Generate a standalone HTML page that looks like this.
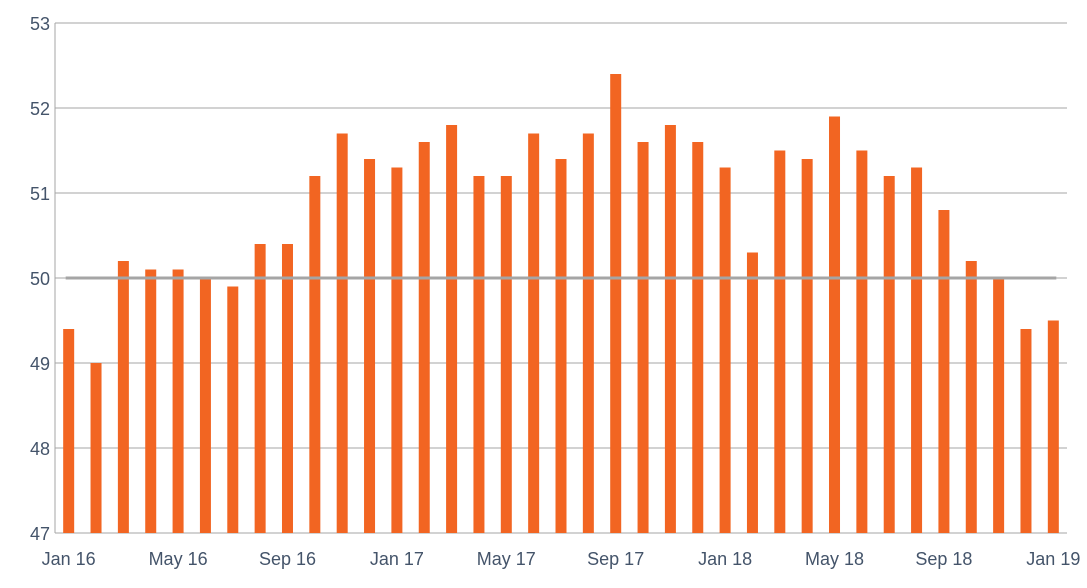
<!DOCTYPE html>
<html><head><meta charset="utf-8"><style>
body{margin:0;background:#fff;}
svg text{font-family:"Liberation Sans",sans-serif;font-size:18px;fill:#44546a;}
</style></head><body>
<svg id="chart" width="1087" height="583" viewBox="0 0 1087 583"></svg>
<script>
const categories=["Jan 16","Feb 16","Mar 16","Apr 16","May 16","Jun 16","Jul 16","Aug 16","Sep 16","Oct 16","Nov 16","Dec 16","Jan 17","Feb 17","Mar 17","Apr 17","May 17","Jun 17","Jul 17","Aug 17","Sep 17","Oct 17","Nov 17","Dec 17","Jan 18","Feb 18","Mar 18","Apr 18","May 18","Jun 18","Jul 18","Aug 18","Sep 18","Oct 18","Nov 18","Dec 18","Jan 19"];
const values=[49.4,49.0,50.2,50.1,50.1,50.0,49.9,50.4,50.4,51.2,51.7,51.4,51.3,51.6,51.8,51.2,51.2,51.7,51.4,51.7,52.4,51.6,51.8,51.6,51.3,50.3,51.5,51.4,51.9,51.5,51.2,51.3,50.8,50.2,50.0,49.4,49.5];
const yTicks=[47,48,49,50,51,52,53];
const xTickLabels=["Jan 16","May 16","Sep 16","Jan 17","May 17","Sep 17","Jan 18","May 18","Sep 18","Jan 19"];
const refValue=50;

const svg=document.getElementById('chart');
const NS='http://www.w3.org/2000/svg';
const L=55,R=1067,T=23,B=533,yMin=47,yMax=53;
const band=(R-L)/categories.length;
const y=v=>B-(v-yMin)/(yMax-yMin)*(B-T);
const xc=i=>L+band*(i+0.5);
function mk(tag,attrs){const e=document.createElementNS(NS,tag);for(const k in attrs)e.setAttribute(k,attrs[k]);svg.appendChild(e);return e;}

yTicks.forEach(t=>{
  const g=mk('line',{x1:L,x2:R,y1:y(t),y2:y(t),stroke:'#a6a6a6','stroke-width':1});
  
  
  const tx=mk('text',{x:L-5,y:y(t)+7,'text-anchor':'end'});
  tx.textContent=t;
  
  
});
const ax=mk('line',{x1:L,x2:L,y1:T,y2:B,stroke:'#a6a6a6','stroke-width':1});



values.forEach((v,i)=>{
  const bw=11;
  const r=mk('rect',{x:xc(i)-bw/2,y:y(v),width:bw,height:B-y(v),fill:'#f26522'});
  
  
});

const ref=mk('line',{x1:xc(0)-3,x2:xc(categories.length-1)+3,y1:y(refValue),y2:y(refValue),stroke:'#a5a5a5','stroke-width':3});



xTickLabels.forEach(lab=>{
  const i=categories.indexOf(lab);
  const tx=mk('text',{x:xc(i),y:565,'text-anchor':'middle'});
  tx.textContent=lab;
  
  
});
</script>
</body></html>
